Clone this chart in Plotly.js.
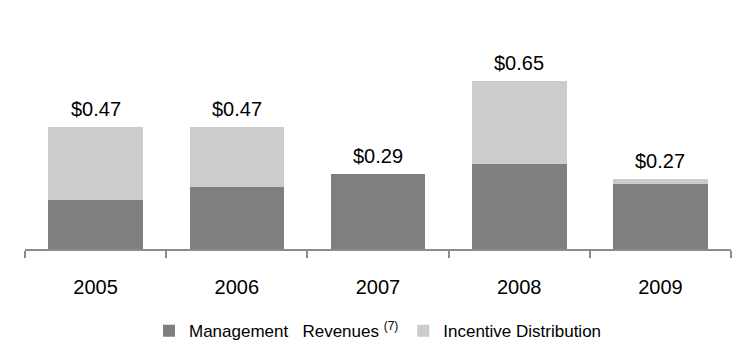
<!DOCTYPE html>
<html><head><meta charset="utf-8">
<script src="https://cdn.plot.ly/plotly-3.0.1.min.js"></script>
<style>html,body{margin:0;padding:0;background:#fff}#chart{width:750px;height:364px}</style>
</head><body><div id="chart"></div>
<script>
const years = ["2005", "2006", "2007", "2008", "2009"];
const management = [0.19, 0.24, 0.29, 0.33, 0.25];
const incentive = [0.28, 0.23, 0.00, 0.32, 0.02];
const totalLabels = ["$0.47", "$0.47", "$0.29", "$0.65", "$0.27"];

const totals = management.map((m, i) => m + incentive[i]);
const font = "Arial, 'Liberation Sans', sans-serif";

const traces = [
  {type: "bar", name: "Management   Revenues <sup>(7)</sup>", x: years, y: management,
   marker: {color: "#7f7f7f", line: {width: 0}}, hoverinfo: "skip"},
  {type: "bar", name: "Incentive Distribution", x: years, y: incentive,
   marker: {color: "#cccccc", line: {width: 0}}, hoverinfo: "skip"}
];

const annotations = years.map((yr, i) => ({
  x: i, y: totals[i], text: totalLabels[i], showarrow: false,
  yanchor: "bottom", yshift: 5, font: {family: font, size: 20, color: "#000"}
}));

const layout = {
  width: 750, height: 364,
  margin: {l: 25, r: 19, t: 42, b: 115},
  barmode: "stack",
  bargap: 0.33,
  showlegend: true,
  legend: {orientation: "h", x: 0.5, xanchor: "center", y: -0.31, yanchor: "top",
           font: {family: font, size: 17, color: "#000"}, traceorder: "normal"},
  xaxis: {type: "category", range: [-0.5, 4.5], showline: true, linecolor: "#8c8c8c", linewidth: 2,
          ticks: "outside", tickson: "boundaries", ticklen: 7, tickcolor: "#8c8c8c", tickwidth: 2,
          ticklabelstandoff: 19,
          tickfont: {family: font, size: 20, color: "#000"}, showgrid: false, zeroline: false},
  yaxis: {range: [0, 0.8], visible: false, showgrid: false, zeroline: false},
  annotations: annotations,
  paper_bgcolor: "#fff", plot_bgcolor: "#fff"
};

Plotly.newPlot("chart", traces, layout, {displayModeBar: false, staticPlot: true});
</script></body></html>
